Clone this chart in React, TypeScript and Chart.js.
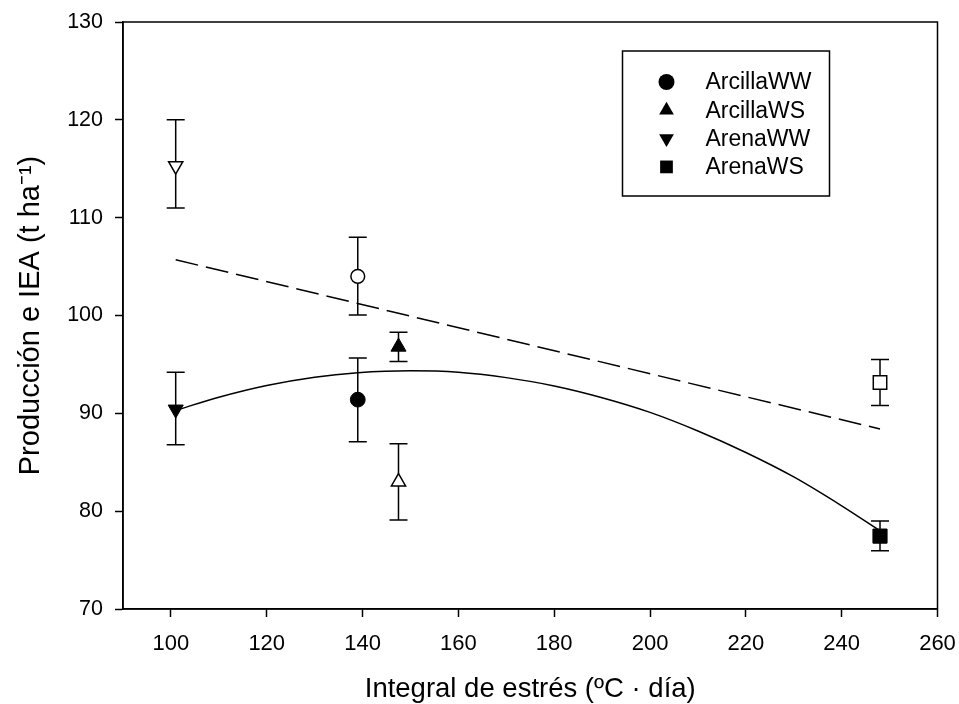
import React, { useEffect, useRef } from "react";
import { Chart, registerables } from "chart.js";

Chart.register(...registerables);

// ---- data ----
const xTicks = [100, 120, 140, 160, 180, 200, 220, 240, 260];
const yTicks = [70, 80, 90, 100, 110, 120, 130];

const seriesNames = ["ArcillaWW", "ArcillaWS", "ArenaWW", "ArenaWS"];
const stressX = [139, 147.5, 101, 248];
const produccion = [91.4, 96.8, 90.4, 77.45];
const produccionLow = [87.1, 95.3, 86.8, 75.95];
const produccionHigh = [95.65, 98.3, 94.2, 79.0];
const iea = [104.0, 83.0, 115.3, 93.15];
const ieaLow = [100.05, 79.1, 111.0, 90.8];
const ieaHigh = [108.0, 86.9, 120.0, 95.5];

const curveX = [101, 110, 120, 130, 139, 150, 160, 170, 180, 190, 200, 210, 220, 230, 240, 248];
const curveY = [90.3, 91.65, 92.85, 93.7, 94.15, 94.35, 94.2, 93.65, 92.8, 91.6, 90.1, 88.2, 86.0, 83.5, 80.55, 78.0];
const dashX = [101, 248];
const dashY = [105.7, 88.4];

// ---- styles ----
const FONT = '"Liberation Sans", Arial, sans-serif';
const markerStyles = ["circle", "triangle", "triangle", "rect"];
const markerRotation = [0, 0, 180, 0];
const markerRadius = [7.4, 8.7, 8.7, 10];

function drawMarker(ctx: CanvasRenderingContext2D, i: number, x: number, y: number, r: number) {
  ctx.beginPath();
  const style = markerStyles[i];
  if (style === "circle") {
    ctx.arc(x, y, r, 0, Math.PI * 2);
  } else if (style === "triangle") {
    const s = markerRotation[i] === 180 ? -1 : 1;
    const w = Math.sin(Math.PI * 2 / 3) * r;
    ctx.moveTo(x, y - s * r);
    ctx.lineTo(x + w, y + s * r / 2);
    ctx.lineTo(x - w, y + s * r / 2);
    ctx.closePath();
  } else {
    const h = r * Math.SQRT1_2;
    ctx.rect(x - h, y - h, 2 * h, 2 * h);
  }
  ctx.fillStyle = "#000";
  ctx.fill();
}

const errorBarPlugin = {
  id: "errorBars",
  beforeDatasetsDraw(chart: any) {
    const { ctx, scales } = chart;
    const xs = scales.x, ys = scales.y;
    ctx.save();
    ctx.strokeStyle = "#000";
    ctx.lineWidth = 1.5;
    const draw = (x: number, lo: number, hi: number) => {
      const px = xs.getPixelForValue(x);
      const pl = ys.getPixelForValue(lo);
      const ph = ys.getPixelForValue(hi);
      ctx.beginPath();
      ctx.moveTo(px, pl);
      ctx.lineTo(px, ph);
      ctx.moveTo(px - 9, pl);
      ctx.lineTo(px + 9, pl);
      ctx.moveTo(px - 9, ph);
      ctx.lineTo(px + 9, ph);
      ctx.stroke();
    };
    stressX.forEach((x, i) => {
      draw(x, produccionLow[i], produccionHigh[i]);
      draw(x, ieaLow[i], ieaHigh[i]);
    });
    ctx.restore();
  },
};

const framePlugin = {
  id: "frame",
  afterDatasetsDraw(chart: any) {
    const { ctx, chartArea } = chart;
    ctx.save();
    ctx.strokeStyle = "#000";
    ctx.lineWidth = 1.5;
    ctx.strokeRect(chartArea.left, chartArea.top, chartArea.right - chartArea.left, chartArea.bottom - chartArea.top);
    ctx.restore();
  },
};

const legendPlugin = {
  id: "boxLegend",
  afterDraw(chart: any) {
    const { ctx, chartArea } = chart;
    const left = chartArea.left + 499.5;
    const top = chartArea.top + 29;
    const w = 207;
    const h = 145;
    ctx.save();
    ctx.fillStyle = "#fff";
    ctx.fillRect(left, top, w, h);
    ctx.strokeStyle = "#000";
    ctx.lineWidth = 1.5;
    ctx.strokeRect(left, top, w, h);
    seriesNames.forEach((name, i) => {
      const cy = top + 31 + i * 28.3;
      const cx = left + 44;
      const r = i === 0 ? 8 : i === 3 ? 9 : 8.5;
      drawMarker(ctx, i, cx, cy, r);
      ctx.fillStyle = "#000";
      ctx.font = `23px ${FONT}`;
      ctx.textBaseline = "middle";
      ctx.textAlign = "left";
      ctx.fillText(name, left + 83, cy + 1);
    });
    ctx.restore();
  },
};

export default function App() {
  const canvasRef = useRef<HTMLCanvasElement | null>(null);

  useEffect(() => {
    if (!canvasRef.current) return;
    Chart.defaults.font.family = FONT;
    Chart.defaults.color = "#000";

    const filledSets = seriesNames.map((name, i) => ({
      type: "scatter" as const,
      label: name,
      data: [{ x: stressX[i], y: produccion[i] }],
      pointStyle: markerStyles[i],
      rotation: markerRotation[i],
      pointRadius: markerRadius[i],
      pointBackgroundColor: "#000",
      pointBorderColor: "#000",
      pointBorderWidth: 1,
    }));
    const openSets = seriesNames.map((name, i) => ({
      type: "scatter" as const,
      label: name + " IEA",
      data: [{ x: stressX[i], y: iea[i] }],
      pointStyle: markerStyles[i],
      rotation: markerRotation[i],
      pointRadius: markerRadius[i] - 0.5,
      pointBackgroundColor: "#fff",
      pointBorderColor: "#000",
      pointBorderWidth: 1.5,
    }));
    const curve = {
      type: "line" as const,
      label: "Ajuste producción",
      data: curveX.map((x, i) => ({ x, y: curveY[i] })),
      borderColor: "#000",
      borderWidth: 1.5,
      pointRadius: 0,
      fill: false,
      cubicInterpolationMode: "monotone" as const,
    };
    const dashed = {
      type: "line" as const,
      label: "Ajuste IEA",
      data: dashX.map((x, i) => ({ x, y: dashY[i] })),
      borderColor: "#000",
      borderWidth: 1.5,
      borderDash: [23, 8],
      pointRadius: 0,
      fill: false,
    };

    const chart = new Chart(canvasRef.current, {
      type: "scatter",
      data: { datasets: [...filledSets, ...openSets, curve, dashed] as any },
      options: {
        animation: false,
        responsive: true,
        maintainAspectRatio: false,
        layout: { padding: { top: 22, right: 21.5, left: 0, bottom: 0 } },
        plugins: { legend: { display: false }, tooltip: { enabled: false } },
        scales: {
          x: {
            type: "linear",
            min: 90,
            max: 260,
            afterBuildTicks: (axis: any) => {
              axis.ticks = xTicks.map((v) => ({ value: v }));
            },
            afterFit: (axis: any) => {
              axis.height = 95;
              axis.paddingLeft = 0;
              axis.paddingRight = 0;
            },
            border: { color: "#000", width: 1.5 },
            grid: { drawOnChartArea: false, drawTicks: true, tickLength: 8, tickColor: "#000", tickWidth: 1.5 },
            ticks: { color: "#000", font: { size: 22 }, padding: 14, maxRotation: 0 },
            title: {
              display: true,
              text: "Integral de estrés (ºC · día)",
              color: "#000",
              font: { size: 27.5, lineHeight: 1 },
              padding: { top: 0, bottom: 0.5 },
            },
          },
          y: {
            type: "linear",
            min: 70,
            max: 130,
            afterBuildTicks: (axis: any) => {
              axis.ticks = yTicks.map((v) => ({ value: v }));
            },
            afterFit: (axis: any) => {
              axis.width = 123;
              axis.paddingTop = 0;
              axis.paddingBottom = 0;
            },
            border: { color: "#000", width: 1.5 },
            grid: { drawOnChartArea: false, drawTicks: true, tickLength: 8, tickColor: "#000", tickWidth: 1.5 },
            ticks: { color: "#000", font: { size: 21.5 }, padding: 12 },
            title: {
              display: true,
              text: "Producción e IEA (t ha⁻¹)",
              color: "#000",
              font: { size: 29, lineHeight: 1 },
              padding: { top: 16, bottom: 0 },
            },
          },
        },
      },
      plugins: [errorBarPlugin, framePlugin, legendPlugin],
    });
    return () => chart.destroy();
  }, []);

  return (
    <div style={{ position: "fixed", left: 0, top: 0, width: 959, height: 704, background: "#fff" }}>
      <canvas ref={canvasRef} />
    </div>
  );
}
